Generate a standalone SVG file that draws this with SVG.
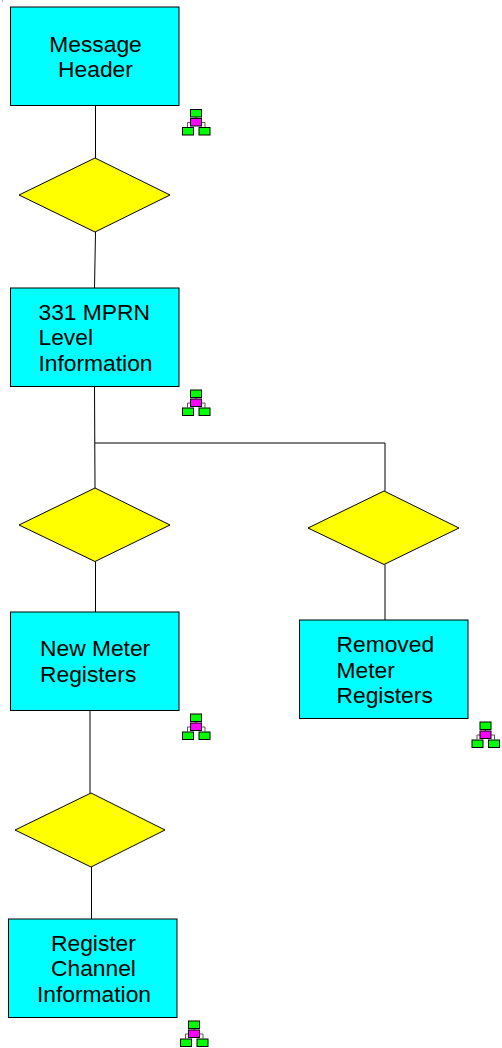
<svg xmlns="http://www.w3.org/2000/svg" width="502" height="1048" viewBox="0 0 502 1048">
<style>
.box{fill:#00ffff;stroke:#000;stroke-width:1}
.dia{fill:#ffff00;stroke:#000;stroke-width:1}
.lbl{font-family:"Liberation Sans",Arial,sans-serif;font-size:22.800px;fill:#000}
.c{fill:none;stroke:#000;stroke-width:1}
.ic{fill:none;stroke:#555;stroke-width:1}
.g{fill:#00ff00;stroke:#000;stroke-width:1}
.m{fill:#ff00ff;stroke:#000;stroke-width:1}
</style>
<defs>
<g id="tree">
<path class="ic" d="M14 7V10M5.500 18V13.500H9M19 13.500H23V18"/>
<rect class="g" x="8.500" y="0.500" width="11" height="7.500"/>
<rect class="m" x="8.500" y="9.500" width="11" height="7.500"/>
<rect class="g" x="0.500" y="18.500" width="11" height="7.500"/>
<rect class="g" x="17" y="18.500" width="11" height="7.500"/>
</g>
</defs>
<rect x="2" y="0.500" width="1" height="1" fill="#555"/>
<g id="connectors">
<path class="c" d="M95.500 105.500V158M95.500 232L94.500 288M94.500 386L95 488M95 443H385V491M95.500 561.500V612M385 564.500V620M90 710V793M91.500 867V919"/>
</g>
<g id="node-message-header">
<rect class="box" x="10.500" y="7" width="168.500" height="98.500"/>
<text class="lbl" x="95.500" y="52" text-anchor="middle">Message</text>
<text class="lbl" x="95.500" y="77" text-anchor="middle">Header</text>
</g>
<use id="icon-1" href="#tree" x="182" y="109"/>
<g id="decision-1"><polygon class="dia" points="95,158 170,195 95,232 19,195"/></g>
<g id="node-331">
<rect class="box" x="10.500" y="288" width="168.500" height="98.500"/>
<text class="lbl" x="38.500" y="320">331 MPRN</text>
<text class="lbl" x="38.500" y="345">Level</text>
<text class="lbl" x="38.500" y="371">Information</text>
</g>
<use id="icon-2" href="#tree" x="182" y="389.500"/>
<g id="decision-2"><polygon class="dia" points="95,488 170,525 95,561.500 19,525"/></g>
<g id="decision-3"><polygon class="dia" points="384,491 459,528 384,564.500 308,528"/></g>
<g id="node-new-meter">
<rect class="box" x="10.500" y="612" width="168.500" height="98.500"/>
<text class="lbl" x="40" y="656">New Meter</text>
<text class="lbl" x="40" y="682">Registers</text>
</g>
<use id="icon-3" href="#tree" x="182" y="713.500"/>
<g id="node-removed-meter">
<rect class="box" x="299.500" y="620" width="168.500" height="98.500"/>
<text class="lbl" x="336.500" y="652">Removed</text>
<text class="lbl" x="336.500" y="678">Meter</text>
<text class="lbl" x="336.500" y="703">Registers</text>
</g>
<use id="icon-4" href="#tree" x="471.500" y="721.500"/>
<g id="decision-4"><polygon class="dia" points="91,793 165,830 91,867 15,830"/></g>
<g id="node-register-channel">
<rect class="box" x="8.500" y="919" width="168.500" height="98.500"/>
<text class="lbl" x="51" y="951">Register</text>
<text class="lbl" x="51" y="976">Channel</text>
<text class="lbl" x="37" y="1002">Information</text>
</g>
<use id="icon-5" href="#tree" x="180" y="1020.500"/>
</svg>
